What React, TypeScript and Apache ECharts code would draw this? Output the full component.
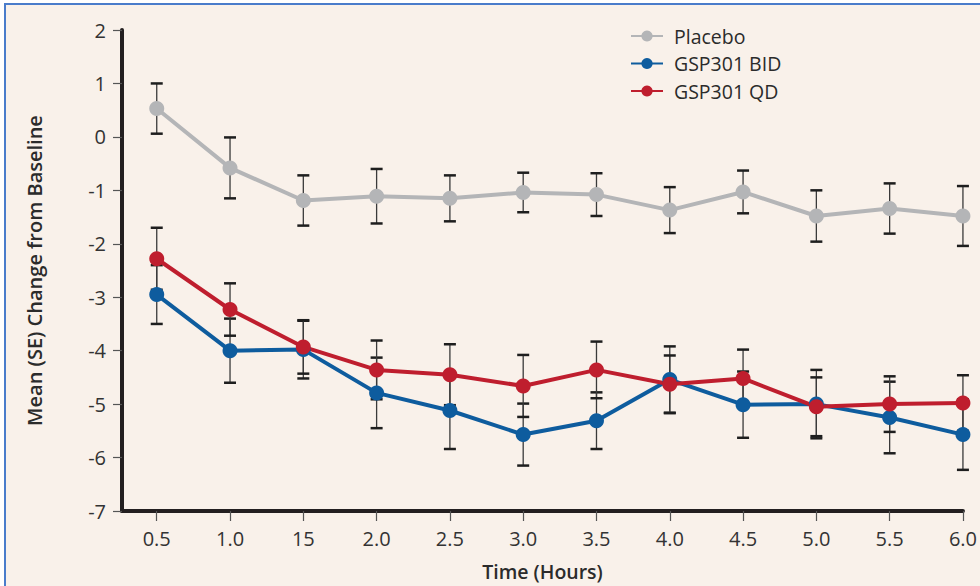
import React, { useEffect, useRef } from "react";
import * as echarts from "echarts";

const times = [0.5, 1.0, 1.5, 2.0, 2.5, 3.0, 3.5, 4.0, 4.5, 5.0, 5.5, 6.0];
const tickLabels = ["0.5", "1.0", "15", "2.0", "2.5", "3.0", "3.5", "4.0", "4.5", "5.0", "5.5", "6.0"];

const placeboMean = [0.53, -0.58, -1.19, -1.11, -1.15, -1.04, -1.08, -1.37, -1.03, -1.48, -1.34, -1.48];
const placeboSE = [0.47, 0.57, 0.47, 0.51, 0.43, 0.37, 0.4, 0.43, 0.4, 0.48, 0.47, 0.56];

const bidMean = [-2.95, -4.0, -3.98, -4.79, -5.12, -5.57, -5.31, -4.54, -5.01, -5.0, -5.25, -5.57];
const bidSE = [0.55, 0.6, 0.54, 0.66, 0.72, 0.58, 0.53, 0.62, 0.62, 0.64, 0.67, 0.66];

const qdMean = [-2.28, -3.23, -3.93, -4.36, -4.45, -4.66, -4.36, -4.63, -4.52, -5.05, -5.0, -4.98];
const qdSE = [0.58, 0.49, 0.5, 0.55, 0.57, 0.58, 0.53, 0.54, 0.54, 0.55, 0.52, 0.52];

const seriesNames = ["Placebo", "GSP301 BID", "GSP301 QD"];
const seriesColors = ["#B4B5B7", "#0E5C9E", "#BF1E2E"];

const FONT = "'Open Sans', 'Noto Sans', sans-serif";

function errorSeries(mean: number[], se: number[], name: string) {
  return {
    type: "custom",
    name: name + " SE",
    silent: true,
    z: 1,
    encode: { x: 0, y: 1 },
    data: times.map((t, i) => [t, mean[i], se[i]]),
    renderItem: (params: any, api: any) => {
      const x = api.value(0);
      const m = api.value(1);
      const s = api.value(2);
      const top = api.coord([x, m + s]);
      const bot = api.coord([x, m - s]);
      const hw = 6;
      return {
        type: "group",
        children: [
          {
            type: "line",
            shape: { x1: top[0], y1: top[1], x2: bot[0], y2: bot[1] },
            style: { stroke: "#3a3a3a", lineWidth: 1.3 },
          },
          {
            type: "line",
            shape: { x1: top[0] - hw, y1: top[1], x2: top[0] + hw, y2: top[1] },
            style: { stroke: "#1e1e1e", lineWidth: 2.5 },
          },
          {
            type: "line",
            shape: { x1: bot[0] - hw, y1: bot[1], x2: bot[0] + hw, y2: bot[1] },
            style: { stroke: "#1e1e1e", lineWidth: 2.5 },
          },
        ],
      };
    },
  };
}

function lineSeries(mean: number[], name: string, color: string) {
  return {
    type: "line",
    name,
    z: 3,
    data: times.map((t, i) => [t, mean[i]]),
    symbol: "circle",
    symbolSize: 15,
    lineStyle: { color, width: 4 },
    itemStyle: { color },
  };
}

export default function App() {
  const ref = useRef<HTMLDivElement>(null);
  useEffect(() => {
    if (!ref.current) return;
    const chart = echarts.init(ref.current, undefined, { renderer: "svg" });
    const labelFor = (v: number) => {
      const i = times.findIndex((t) => Math.abs(t - v) < 1e-6);
      return i >= 0 ? tickLabels[i] : "";
    };
    chart.setOption({
      animation: false,
      backgroundColor: "#ffffff",
      textStyle: { fontFamily: FONT },
      graphic: [
        {
          type: "rect",
          z: -10,
          silent: true,
          shape: { x: 5, y: 4, width: 1000, height: 620 },
          style: { fill: "#F9F1EA", stroke: "#4A7CCB", lineWidth: 2 },
        },
      ],
      grid: { left: 122, right: 11, top: 30, bottom: 75, containLabel: false },
      legend: {
        data: seriesNames,
        orient: "vertical",
        left: 625,
        top: 21,
        itemWidth: 32,
        itemHeight: 14,
        itemGap: 7.5,
        textStyle: {
          fontSize: 19.5,
          lineHeight: 20,
          color: "#2b2b2b",
          fontFamily: FONT,
          padding: [0, 0, 0, 6],
        },
      },
      xAxis: {
        type: "value",
        min: 0.263,
        max: 6,
        name: "Time (Hours)",
        nameLocation: "middle",
        nameGap: 50,
        nameTextStyle: { fontSize: 19.5, fontWeight: 600, color: "#2b2b2b", fontFamily: FONT },
        axisLine: { show: true, onZero: false, lineStyle: { color: "#231F20", width: 4 } },
        axisTick: { show: true, customValues: times, length: 10, lineStyle: { color: "#555", width: 1.2 } },
        axisLabel: {
          customValues: times,
          formatter: labelFor,
          fontSize: 20,
          color: "#333",
          margin: 17,
          fontFamily: FONT,
        },
        splitLine: { show: false },
      },
      yAxis: {
        type: "value",
        min: -7,
        max: 2,
        interval: 1,
        name: "Mean (SE) Change from Baseline",
        nameLocation: "middle",
        nameGap: 78,
        nameTextStyle: { fontSize: 20, fontWeight: 600, color: "#2b2b2b", fontFamily: FONT },
        axisLine: { show: true, onZero: false, lineStyle: { color: "#231F20", width: 4 } },
        axisTick: { show: true, length: 9, lineStyle: { color: "#555", width: 1.2 } },
        axisLabel: { fontSize: 20, color: "#333", margin: 16, fontFamily: FONT },
        splitLine: { show: false },
      },
      series: [
        errorSeries(placeboMean, placeboSE, seriesNames[0]),
        errorSeries(bidMean, bidSE, seriesNames[1]),
        errorSeries(qdMean, qdSE, seriesNames[2]),
        lineSeries(placeboMean, seriesNames[0], seriesColors[0]),
        lineSeries(bidMean, seriesNames[1], seriesColors[1]),
        lineSeries(qdMean, seriesNames[2], seriesColors[2]),
      ],
    });
    return () => chart.dispose();
  }, []);
  return (
    <div
      ref={ref}
      style={{ position: "absolute", left: 0, top: 0, width: 980, height: 586 }}
    />
  );
}
